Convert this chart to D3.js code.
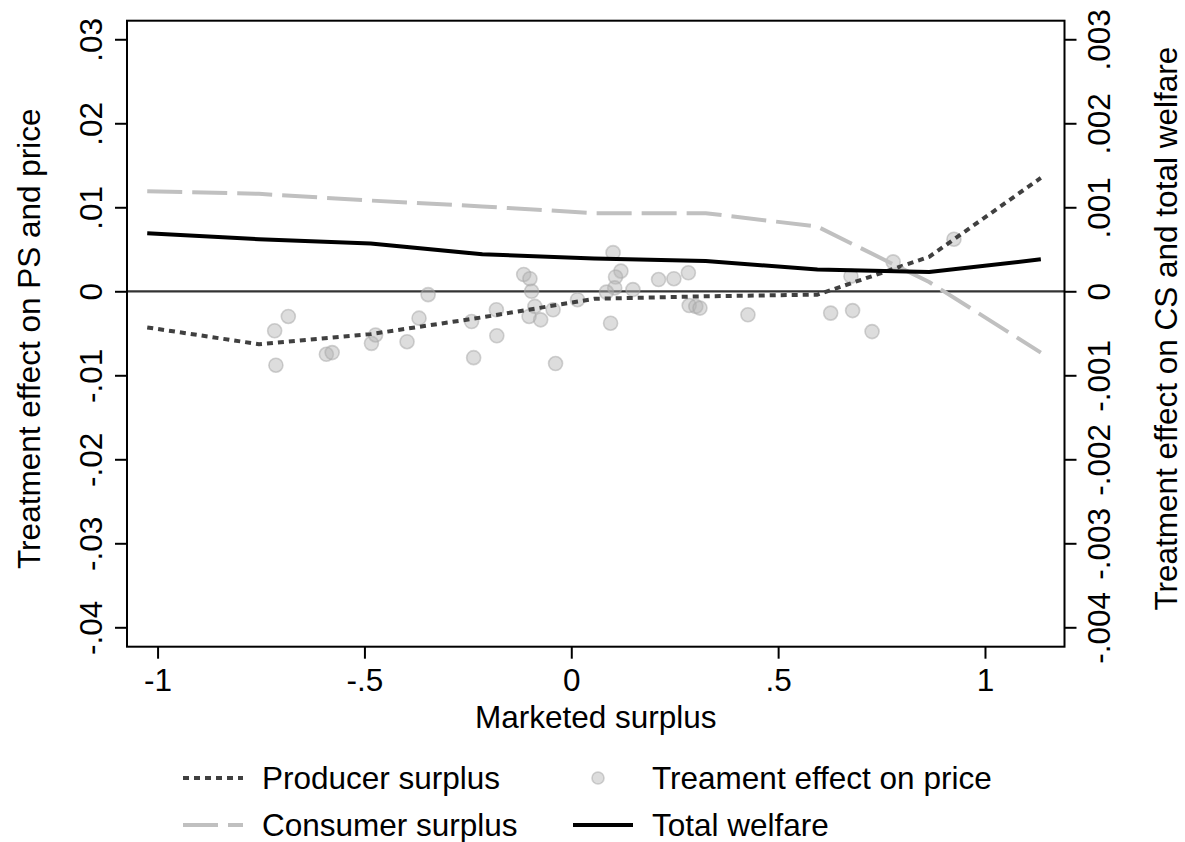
<!DOCTYPE html>
<html>
<head>
<meta charset="utf-8">
<script src="https://cdn.jsdelivr.net/npm/d3@7"></script>
<style>
  html, body { margin: 0; padding: 0; background: #fff; }
  svg { display: block; }
  text { font-family: "Liberation Sans", Arial, Helvetica, sans-serif; fill: #000; }
</style>
</head>
<body>
<svg id="chart" width="1185" height="842"></svg>
<script>
// Bin midpoints of marketed surplus at which the welfare effects are evaluated
const binX = [-1.025, -0.755, -0.485, -0.215, 0.055, 0.325, 0.595, 0.865, 1.135];
// Producer surplus (left axis)
const producerSurplus = [-0.0043, -0.0063, -0.0051, -0.0031, -0.0009, -0.0006, -0.0004, 0.0041, 0.0135];
// Consumer surplus and total welfare (right axis)
const consumerSurplus = [0.00119, 0.00116, 0.00108, 0.00101, 0.00093, 0.00093, 0.00077, 0.00011, -0.00073];
const totalWelfare = [0.00069, 0.00062, 0.00057, 0.00044, 0.00039, 0.00036, 0.00026, 0.00023, 0.00038];

// Village-level treatment effect on price
const priceX = [-0.684, -0.717, -0.714, -0.592, -0.578, -0.483, -0.473, -0.397, -0.368, -0.346,
                -0.241, -0.236, -0.181, -0.180, -0.115, -0.100, -0.096, -0.088, -0.102, -0.074,
                -0.044, -0.038, 0.015, 0.101, 0.120, 0.107, 0.105, 0.085, 0.095, 0.149,
                0.211, 0.248, 0.283, 0.285, 0.301, 0.311, 0.427, 0.627, 0.680, 0.676,
                0.727, 0.778, 0.925];
const priceY = [-0.0030, -0.0047, -0.0088, -0.0075, -0.0073, -0.0062, -0.0052, -0.0060, -0.0032, -0.0004,
                -0.0036, -0.0079, -0.0022, -0.0053, 0.0020, 0.0015, 0.0000, -0.0018, -0.0030, -0.0034,
                -0.0022, -0.0086, -0.0010, 0.0046, 0.0024, 0.0017, 0.0004, -0.0001, -0.0038, 0.0002,
                0.0014, 0.0015, 0.0022, -0.0017, -0.0018, -0.0020, -0.0028, -0.0026, -0.0023, 0.0018,
                -0.0048, 0.0035, 0.0062];

// Axis ticks and their labels
const xTicks = [-1, -0.5, 0, 0.5, 1];
const xTickLabels = ["-1", "-.5", "0", ".5", "1"];
const leftTicks = [-0.04, -0.03, -0.02, -0.01, 0, 0.01, 0.02, 0.03];
const leftTickLabels = ["-.04", "-.03", "-.02", "-.01", "0", ".01", ".02", ".03"];
const rightTicks = [-0.004, -0.003, -0.002, -0.001, 0, 0.001, 0.002, 0.003];
const rightTickLabels = ["-.004", "-.003", "-.002", "-.001", "0", ".001", ".002", ".003"];

const legendItems = ["Producer surplus", "Treament effect on price", "Consumer surplus", "Total welfare"];

const FONT = 31.5;
const plot = { left: 127, right: 1064.5, top: 20.7, bottom: 646.7 };

const svg = d3.select("#chart");

const x = d3.scaleLinear().domain([-1.0739, 1.1922]).range([plot.left, plot.right]);
const yL = d3.scaleLinear().domain([-0.04231, 0.03221]).range([plot.bottom, plot.top]);
const yR = d3.scaleLinear().domain([-0.004231, 0.003221]).range([plot.bottom, plot.top]);

// zero reference line
svg.append("line")
  .attr("x1", plot.left).attr("x2", plot.right)
  .attr("y1", yL(0)).attr("y2", yL(0))
  .attr("stroke", "#333").attr("stroke-width", 2.2);

// scatter of price effects
svg.append("g").selectAll("circle")
  .data(priceX.map((d, i) => [d, priceY[i]]))
  .join("circle")
  .attr("cx", d => x(d[0]))
  .attr("cy", d => yL(d[1]))
  .attr("r", 7)
  .attr("fill", "#b4b4b4").attr("fill-opacity", 0.45)
  .attr("stroke", "#a6a6a6").attr("stroke-opacity", 0.5).attr("stroke-width", 1.6);

const styles = {
  ps: { color: "#404040", width: 4, dash: "6,5" },
  cs: { color: "#c0c0c0", width: 4, dash: "35,10" },
  tw: { color: "#000", width: 4, dash: null }
};

function drawLine(values, yScale, st) {
  const line = d3.line().x((d, i) => x(binX[i])).y(d => yScale(d));
  svg.append("path")
    .attr("d", line(values))
    .attr("fill", "none")
    .attr("stroke", st.color)
    .attr("stroke-width", st.width)
    .attr("stroke-dasharray", st.dash)
    .attr("stroke-linejoin", "round");
}
drawLine(producerSurplus, yL, styles.ps);
drawLine(consumerSurplus, yR, styles.cs);
drawLine(totalWelfare, yR, styles.tw);

// plot frame
svg.append("rect")
  .attr("x", plot.left).attr("y", plot.top)
  .attr("width", plot.right - plot.left).attr("height", plot.bottom - plot.top)
  .attr("fill", "none").attr("stroke", "#000").attr("stroke-width", 2);

// axes
function styleAxis(g) {
  g.select(".domain").remove();
  g.selectAll(".tick line").attr("stroke", "#000").attr("stroke-width", 2);
  g.selectAll(".tick text").attr("font-size", FONT).attr("font-family", null).attr("fill", "#000");
}

const xAxis = svg.append("g")
  .attr("transform", `translate(0,${plot.bottom})`)
  .call(d3.axisBottom(x).tickValues(xTicks).tickSize(12)
        .tickFormat((d, i) => xTickLabels[i]));
styleAxis(xAxis);
xAxis.selectAll(".tick text").attr("y", 44.5).attr("dy", null);

const leftAxis = svg.append("g")
  .attr("transform", `translate(${plot.left},0)`)
  .call(d3.axisLeft(yL).tickValues(leftTicks).tickSize(12)
        .tickFormat((d, i) => leftTickLabels[i]));
styleAxis(leftAxis);
leftAxis.selectAll(".tick text")
  .attr("x", null).attr("dy", null)
  .attr("text-anchor", "middle")
  .attr("transform", "translate(-25,0) rotate(-90)");

const rightAxis = svg.append("g")
  .attr("transform", `translate(${plot.right},0)`)
  .call(d3.axisRight(yR).tickValues(rightTicks).tickSize(12)
        .tickFormat((d, i) => rightTickLabels[i]));
styleAxis(rightAxis);
rightAxis.selectAll(".tick text")
  .attr("x", null).attr("dy", null)
  .attr("text-anchor", "middle")
  .attr("transform", "translate(45.5,0) rotate(-90)");

// axis titles
const midY = (plot.top + plot.bottom) / 2;
svg.append("text")
  .attr("transform", `translate(40,${midY + 5}) rotate(-90)`)
  .attr("text-anchor", "middle").attr("font-size", FONT)
  .text("Treatment effect on PS and price");
svg.append("text")
  .attr("transform", `translate(1177,${midY - 5}) rotate(-90)`)
  .attr("text-anchor", "middle").attr("font-size", FONT)
  .text("Treatment effect on CS and total welfare");
svg.append("text")
  .attr("x", (plot.left + plot.right) / 2).attr("y", 727.5)
  .attr("text-anchor", "middle").attr("font-size", FONT)
  .text("Marketed surplus");

// legend
const legend = svg.append("g");
const rows = [789, 836];
const cols = [{ sx: 183, tx: 262 }, { sx: 573, tx: 652 }];
const legendKeys = [
  { label: legendItems[0], kind: "line", st: styles.ps, row: 0, col: 0 },
  { label: legendItems[1], kind: "dot", row: 0, col: 1 },
  { label: legendItems[2], kind: "line", st: styles.cs, row: 1, col: 0 },
  { label: legendItems[3], kind: "line", st: styles.tw, row: 1, col: 1 }
];
legendKeys.forEach(k => {
  const base = rows[k.row];
  const c = cols[k.col];
  const midLine = base - 11;
  if (k.kind === "line") {
    legend.append("line")
      .attr("x1", c.sx).attr("x2", c.sx + 60)
      .attr("y1", midLine).attr("y2", midLine)
      .attr("stroke", k.st.color).attr("stroke-width", k.st.width)
      .attr("stroke-dasharray", k.st.dash);
  } else {
    legend.append("circle")
      .attr("cx", c.sx + 25).attr("cy", midLine).attr("r", 6)
      .attr("fill", "#b4b4b4").attr("fill-opacity", 0.45)
      .attr("stroke", "#a6a6a6").attr("stroke-opacity", 0.5).attr("stroke-width", 1.6);
  }
  legend.append("text")
    .attr("x", c.tx).attr("y", base)
    .attr("font-size", FONT)
    .text(k.label);
});
</script>
</body>
</html>
